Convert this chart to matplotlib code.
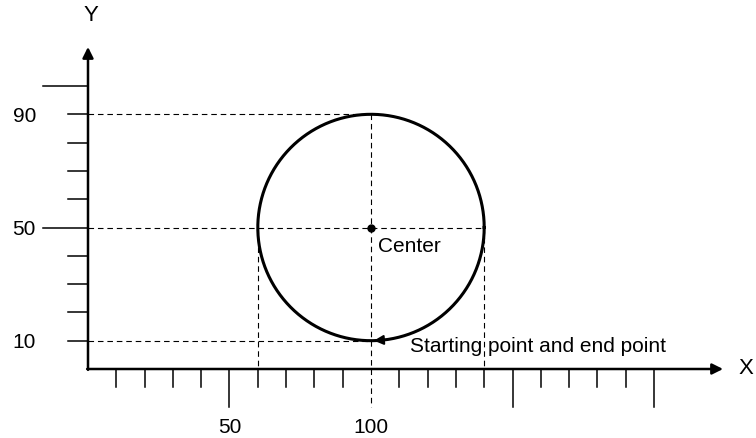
import numpy as np
import matplotlib
matplotlib.use('Agg')
import matplotlib.pyplot as plt

plt.rcParams['font.family'] = ['Liberation Sans', 'DejaVu Sans']

# circle path definition (mm)
CENTER = (100, 50)
RADIUS = 40
START_POINT = (100, 10)

# axis tick marks
X_TICKS = list(range(10, 210, 10))
X_LONG_TICKS = [50, 100, 150, 200]
X_TICK_LABELS = {50: '50', 100: '100'}
Y_TICKS = list(range(10, 110, 10))
Y_LONG_TICKS = [50, 100]
Y_TICK_LABELS = {10: '10', 50: '50', 90: '90'}
X_END, Y_END = 224.4, 113.8

# pixel scale of the reference: 2.83 px per unit, origin at (88, 369)
S = 2.83
fig = plt.figure(figsize=(7.56, 4.38), dpi=100)
ax = fig.add_axes([0, 0, 1, 1])
ax.set_xlim(-88 / S, (756 - 88) / S)
ax.set_ylim(-(438 - 369) / S, 369 / S)
ax.axis('off')

dash = dict(color='black', lw=0.8, ls=(0, (5, 3.5)))
cx, cy = CENTER
# guide lines
ax.plot([0, cx], [cy + RADIUS, cy + RADIUS], **dash)
ax.plot([0, cx + RADIUS], [cy, cy], **dash)
ax.plot([0, cx], [cy - RADIUS, cy - RADIUS], **dash)
ax.plot([cx, cx], [cy + RADIUS, -13.4], **dash)
ax.plot([cx - RADIUS, cx - RADIUS], [cy, 0], **dash)
ax.plot([cx + RADIUS, cx + RADIUS], [cy, 0], **dash)

# axes with arrows
arrow = dict(arrowstyle='-|>', lw=1.8, color='black', mutation_scale=16, shrinkA=0, shrinkB=0)
ax.annotate('', xy=(X_END, 0), xytext=(-0.3, 0), arrowprops=arrow)
ax.annotate('', xy=(0, Y_END), xytext=(0, -0.3), arrowprops=arrow)
ax.text(X_END + 8, 0, 'X', fontsize=16, ha='center', va='center')
ax.text(1, Y_END + 11, 'Y', fontsize=16, ha='center', va='center')

for x in X_TICKS:
    if x == cx:
        continue
    low = -13.4 if x in X_LONG_TICKS else -6.4
    ax.plot([x, x], [0, low], color='black', lw=1.1)
for x, lab in X_TICK_LABELS.items():
    ax.text(x, -22.6, lab, fontsize=15, ha='center', va='baseline')

for y in Y_TICKS:
    left = -16 if y in Y_LONG_TICKS else -7
    ax.plot([0, left], [y, y], color='black', lw=1.1)
for y, lab in Y_TICK_LABELS.items():
    ax.text(-18.4, y - 2.6, lab, fontsize=15, ha='right', va='baseline')

# circular path
t = np.linspace(0, 2 * np.pi, 400)
ax.plot(cx + RADIUS * np.cos(t), cy + RADIUS * np.sin(t), color='black', lw=2.2)
ax.plot([cx], [cy], 'o', color='black', ms=5)
ax.text(cx + 2.5, cy - 8.7, 'Center', fontsize=15, ha='left', va='baseline')

# direction arrow at start point
sx, sy = START_POINT
ax.annotate('', xy=(sx + 1, sy + 0.02), xytext=(sx + 5, sy + 0.3),
            arrowprops=dict(arrowstyle='-|>', color='black', lw=1.5, mutation_scale=14,
                            shrinkA=0, shrinkB=0))
ax.text(113.8, 6.0, 'Starting point and end point', fontsize=15, ha='left', va='baseline')

fig.savefig('out.png', dpi=100)
